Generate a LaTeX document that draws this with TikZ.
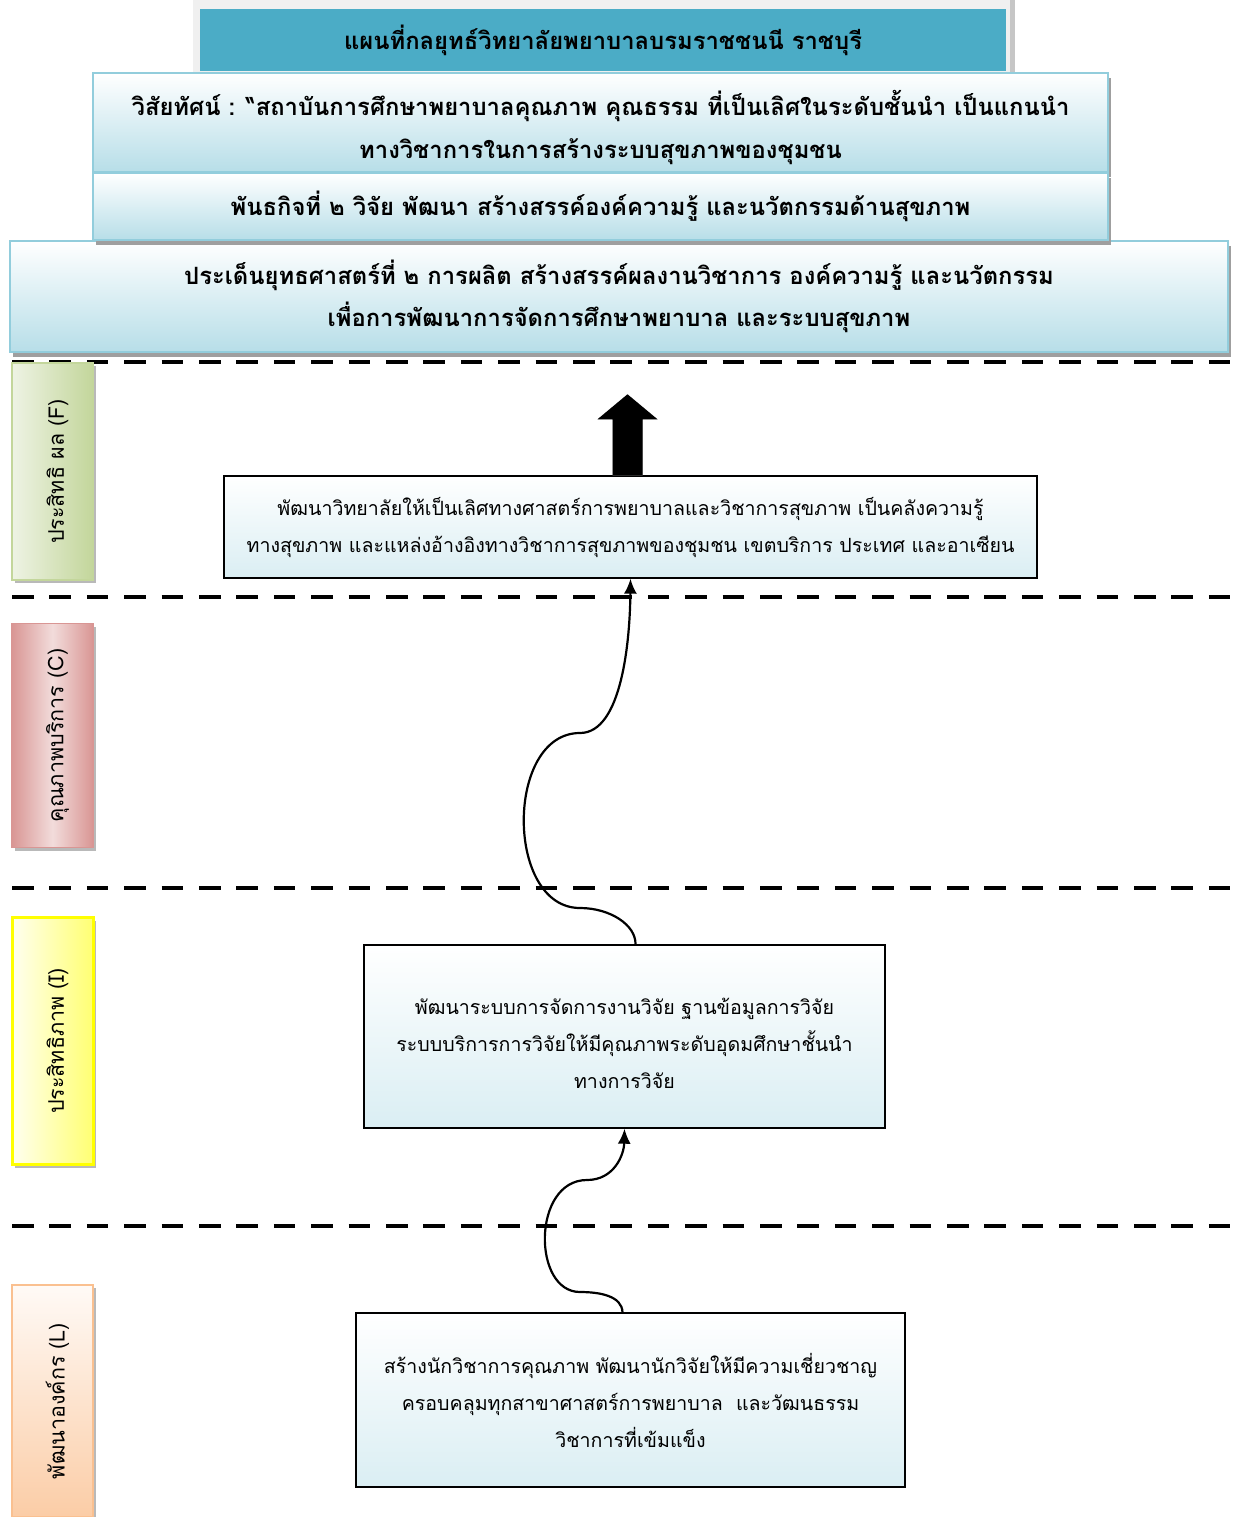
\documentclass[tikz,border=0pt]{standalone}
\usepackage{fontspec}
\newfontfamily\thaifont[Script=Thai]{Loma}
\usetikzlibrary{arrows.meta,shadows}
\definecolor{titleteal}{HTML}{4BACC6}
\definecolor{headline}{HTML}{92CDDC}
\definecolor{headfill}{HTML}{B7DEE8}
\definecolor{goalfill}{HTML}{DAEEF3}
\definecolor{fdark}{HTML}{C3D69B}
\definecolor{flight}{HTML}{EEF3E4}
\definecolor{cdark}{HTML}{D99694}
\definecolor{clight}{HTML}{F2DCDB}
\definecolor{idark}{HTML}{FFFF00}
\definecolor{ilight}{HTML}{FFFFF0}
\definecolor{ldark}{HTML}{FAC090}
\definecolor{llight}{HTML}{FFFAF6}
\begin{document}
\begin{tikzpicture}[x=1pt, y=-1pt,
    headbox/.style={draw=headline, line width=2pt, top color=white, bottom color=headfill,
        inner sep=0pt, align=center, font=\thaifont\bfseries\fontsize{23.8}{42.5}\selectfont,
        drop shadow={shadow xshift=3pt, shadow yshift=-5pt, fill=gray!75, opacity=1}},
    goalbox/.style={draw=black, line width=1.4pt, top color=white, bottom color=goalfill,
        inner sep=0pt, align=center, font=\thaifont\fontsize{19.6}{37}\selectfont},
    sidebox/.style={line width=1.5pt, inner sep=0pt, minimum width=81pt,
        font=\thaifont\fontsize{21.5}{25}\selectfont,
        drop shadow={shadow xshift=3pt, shadow yshift=-3pt, fill=gray!55, opacity=1}},
    sepline/.style={line width=4.5pt, dash pattern=on 21.5pt off 15.9pt},
    linkarrow/.style={line width=2.2pt, -{Latex[length=15pt,width=13pt]}}]
\useasboundingbox (0,0) rectangle (1232,1517);

% title
\fill[gray!12] (193,0) rectangle (1015,72);
\fill[gray!45] (1010,0) rectangle (1015,72);
\node[fill=titleteal, minimum width=806pt, minimum height=62pt, inner sep=0pt,
    font=\thaifont\bfseries\fontsize{23.8}{28}\selectfont] (title) at (603,40)
    {แผนที่กลยุทธ์วิทยาลัยพยาบาลบรมราชชนนี ราชบุรี};

% vision, mission, strategy
\node[headbox, minimum width=1218pt, minimum height=111pt] (strategy) at (619,296.5)
    {ประเด็นยุทธศาสตร์ที่ ๒ การผลิต สร้างสรรค์ผลงานวิชาการ องค์ความรู้ และนวัตกรรม\\
     เพื่อการพัฒนาการจัดการศึกษาพยาบาล และระบบสุขภาพ};
\node[headbox, minimum width=1015pt, minimum height=99pt] (vision) at (600.5,122.5)
    {\rule{0pt}{35pt}วิสัยทัศน์ : “สถาบันการศึกษาพยาบาลคุณภาพ คุณธรรม ที่เป็นเลิศในระดับชั้นนำ เป็นแกนนำ\\
     ทางวิชาการในการสร้างระบบสุขภาพของชุมชน};
\node[headbox, minimum width=1015pt, minimum height=67pt] (mission) at (600.5,206.5)
    {พันธกิจที่ ๒ วิจัย พัฒนา สร้างสรรค์องค์ความรู้ และนวัตกรรมด้านสุขภาพ};

% separators
\foreach \y in {362,597,888,1226}
    \draw[sepline] (12,\y) -- (1260,\y);

% perspectives
\node[sidebox, draw=fdark, left color=flight, right color=fdark, minimum height=217pt]
    (fside) at (52.5,471.5) {\hspace*{10pt}\rotatebox{90}{ประสิทธิ ผล (F)}};
\node[sidebox, draw=cdark, left color=cdark, right color=cdark, middle color=clight,
    minimum height=224pt] (cside) at (52.5,735.5) {\hspace*{10pt}\rotatebox{90}{คุณภาพบริการ (C)}};
\node[sidebox, draw=idark, line width=3pt, left color=ilight, right color=idark!55,
    minimum height=247pt] (iside) at (52.5,1041) {\hspace*{10pt}\rotatebox{90}{ประสิทธิภาพ (I)}};
\node[sidebox, draw=ldark, top color=llight, bottom color=ldark!80,
    minimum height=232pt] (lside) at (52.5,1401) {\hspace*{10pt}\rotatebox{90}{พัฒนาองค์กร (L)}};

% goals
\node[goalbox, minimum width=813pt, minimum height=102pt] (fgoal) at (630.5,527)
    {พัฒนาวิทยาลัยให้เป็นเลิศทางศาสตร์การพยาบาลและวิชาการสุขภาพ เป็นคลังความรู้\\
     ทางสุขภาพ และแหล่งอ้างอิงทางวิชาการสุขภาพของชุมชน เขตบริการ ประเทศ และอาเซียน};
\node[goalbox, minimum width=521pt, minimum height=183pt] (igoal) at (624.5,1036.5)
    {\rule{0pt}{31pt}พัฒนาระบบการจัดการงานวิจัย ฐานข้อมูลการวิจัย\\
     ระบบบริการการวิจัยให้มีคุณภาพระดับอุดมศึกษาชั้นนำ\\
     ทางการวิจัย};
\node[goalbox, minimum width=549pt, minimum height=174pt] (lgoal) at (630.5,1400)
    {สร้างนักวิชาการคุณภาพ พัฒนานักวิจัยให้มีความเชี่ยวชาญ\\
     ครอบคลุมทุกสาขาศาสตร์การพยาบาล\ \ และวัฒนธรรม\\
     วิชาการที่เข้มแข็ง};

% block arrow to the strategy
\fill[gray!55, shift={(4,3)}] ([xshift=-3pt]fgoal.north) ++(-15,0) -- ++(0,-56) -- ++(-15,0)
    -- ++(30,-25) -- ++(30,25) -- ++(-15,0) -- ++(0,56) -- cycle;
\fill ([xshift=-3pt]fgoal.north) ++(-15,0) -- ++(0,-56) -- ++(-15,0)
    -- ++(30,-25) -- ++(30,25) -- ++(-15,0) -- ++(0,56) -- cycle;

% links
\draw[linkarrow] ([xshift=11pt]igoal.north) .. controls (636,925) and (610,908) .. (580,908)
    .. controls (505,908) and (505,733) .. (580,733)
    .. controls (622,733) and (630,640) .. (fgoal.south);
\draw[linkarrow] ([xshift=-8pt]lgoal.north) .. controls (622,1296) and (600,1292) .. (580,1292)
    .. controls (532,1292) and (532,1180) .. (587,1180)
    .. controls (614,1180) and (624,1155) .. (igoal.south);
\end{tikzpicture}
\end{document}
